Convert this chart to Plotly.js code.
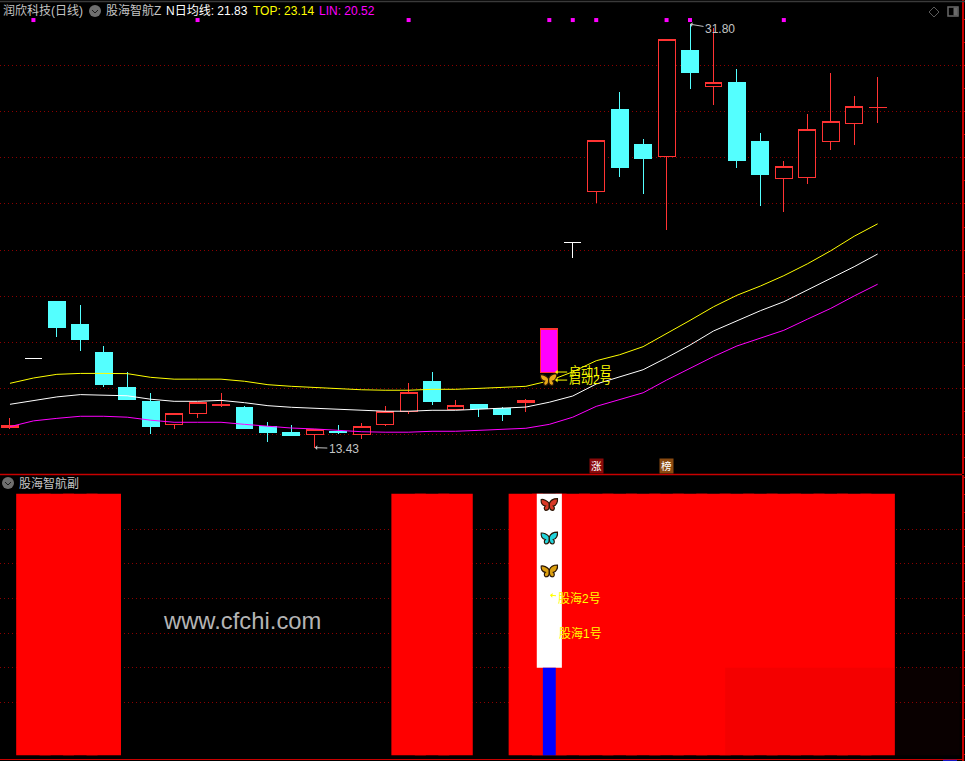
<!DOCTYPE html>
<html><head><meta charset="utf-8">
<script src="https://cdn.plot.ly/plotly-3.0.1.min.js"></script>
<style>html,body{margin:0;padding:0;background:#000}#c{width:965px;height:761px}
.boxlayer path{shape-rendering:crispEdges}</style>
</head><body><div id="c"></div>
<script>
const candleX=[0,1,2,3,4,5,6,7,8,9,10,11,12,13,14,15,16,17,18,19,20,21,22,23,24,25,26,27,28,29,30,31,32,33,34,35,36,37];
const candleOpen=[14.30,17.31,19.79,18.79,17.54,16.02,15.45,14.43,14.90,15.25,15.15,14.33,14.07,14.02,14.11,13.99,14.43,15.01,16.32,15.08,15.28,15.11,15.38,16.68,22.31,24.53,28.08,26.60,26.07,30.68,29.09,29.25,26.69,25.10,25.13,26.69,27.51,28.18];
const candleHigh=[14.72,17.31,19.79,19.62,17.84,16.71,15.80,14.92,15.40,15.80,15.24,14.54,14.41,14.20,14.41,14.50,15.24,16.24,16.71,15.50,15.28,15.19,15.54,18.58,22.31,26.76,28.86,26.82,31.14,31.80,31.63,29.86,27.08,25.87,27.90,29.68,28.69,29.51];
const candleLow=[14.25,17.31,18.23,17.62,16.06,15.51,14.02,14.24,14.72,15.19,14.24,13.67,13.94,13.43,14.02,13.81,14.37,14.90,15.29,15.08,14.77,14.59,14.99,16.68,21.66,24.06,25.18,24.45,22.89,29.00,28.31,25.57,23.93,23.67,24.87,26.34,26.56,27.51];
const candleClose=[14.39,17.31,18.63,18.10,16.15,15.51,14.33,14.92,15.40,15.28,14.28,14.07,13.94,14.20,14.08,14.36,15.01,15.83,15.42,15.27,15.11,14.85,15.48,18.58,22.31,26.76,25.57,25.96,31.14,29.70,29.28,25.88,25.27,25.64,27.25,27.60,28.21,28.20];
const whiteDojiX=[1,24];
const signalCandleX=[23];
const lineN=[15.31,15.48,15.63,15.73,15.70,15.68,15.53,15.44,15.44,15.48,15.38,15.25,15.18,15.14,15.09,15.05,15.01,15.01,15.05,15.05,15.09,15.14,15.19,15.40,15.67,16.19,16.51,16.81,17.33,17.88,18.49,18.92,19.37,19.76,20.26,20.78,21.28,21.83];
const lineTop=[16.22,16.45,16.61,16.65,16.65,16.64,16.48,16.40,16.40,16.40,16.31,16.16,16.09,16.03,16.00,15.94,15.92,15.92,15.96,15.96,16.00,16.03,16.09,16.33,16.72,17.20,17.46,17.81,18.37,18.95,19.54,20.04,20.44,20.89,21.40,21.97,22.60,23.14];
const lineLin=[14.34,14.59,14.70,14.79,14.79,14.75,14.62,14.53,14.53,14.53,14.44,14.36,14.28,14.24,14.18,14.12,14.10,14.10,14.14,14.14,14.18,14.22,14.27,14.44,14.75,15.22,15.50,15.81,16.36,16.87,17.38,17.84,18.17,18.52,19.00,19.47,20.01,20.52];
const dotX=[1,8,17,23,24,25,28,29,33];
const dotLevel=[31.98,31.98,31.98,31.98,31.98,31.98,31.98,31.98,31.98];
const subRedX=[1,2,3,4,17,18,19,22,23,24,25,26,27,28,29,30,31,32,33,34,35,36,37];
const subWhiteX=[23];
const subBlueX=[23];
const subFloor=-0.53, subCeil=7.03, subSplit=2;
const priceGrid=[14,16,18,20,22,24,26,28,30];
const subGrid=[1,2,3,4,5,6];
const headerTexts=["润欣科技(日线)","股海智航Z","N日均线: 21.83","TOP: 23.14","LIN: 20.52"];

const W=962,H=761;
const X=p=>p/W, Y=p=>1-p/H;
const RED='#ff3333', CYAN='#54ffff', GRID='#8c0000', AXIS='#c80000';
const keep=candleX.map(i=>!whiteDojiX.includes(i)&&!signalCandleX.includes(i));
const pick=(a)=>a.filter((_,i)=>keep[i]);
const pickAt=(a,xs)=>xs.map(x=>a[candleX.indexOf(x)]);
const candle=(xs,o,h,l,c,inc,dec)=>({type:'candlestick',x:xs,open:o,high:h,low:l,close:c,xaxis:'x',yaxis:'y',whiskerwidth:0,
  increasing:inc,decreasing:dec,hoverinfo:'skip',showlegend:false});
const hollow={line:{color:RED,width:1},fillcolor:'#000'};
const solid={line:{color:CYAN,width:1},fillcolor:CYAN};
const white={line:{color:'#fff',width:1},fillcolor:'#fff'};
const sig={line:{color:RED,width:1},fillcolor:'#ff00ff'};
const lineTrace=(y,color)=>({type:'scatter',mode:'lines',x:candleX,y:y,xaxis:'x',yaxis:'y',line:{color:color,width:1},hoverinfo:'skip',showlegend:false});
const bar=(xs,base,top,color,w)=>({type:'bar',x:xs,y:xs.map(()=>top-base),base:xs.map(()=>base),width:w,xaxis:'x2',yaxis:'y2',marker:{color:color,line:{width:0}},hoverinfo:'skip',showlegend:false});

const traces=[
  candle(pick(candleX),pick(candleOpen),pick(candleHigh),pick(candleLow),pick(candleClose),hollow,solid),
  candle(whiteDojiX,pickAt(candleOpen,whiteDojiX),pickAt(candleHigh,whiteDojiX),pickAt(candleLow,whiteDojiX),pickAt(candleClose,whiteDojiX),white,white),
  candle(signalCandleX,pickAt(candleOpen,signalCandleX),pickAt(candleHigh,signalCandleX),pickAt(candleLow,signalCandleX),pickAt(candleClose,signalCandleX),sig,sig),
  lineTrace(lineTop,'#ffff00'),lineTrace(lineN,'#ffffff'),lineTrace(lineLin,'#ff00ff'),
  {type:'scatter',mode:'markers',x:dotX,y:dotLevel,xaxis:'x',yaxis:'y',marker:{symbol:'square',size:4,color:'#ff00ff'},hoverinfo:'skip',showlegend:false},
  bar(subRedX,subFloor,subCeil,'#ff0000',1.47),
  bar(subWhiteX,subSplit,subCeil,'#ffffff',1.07),
  bar(subBlueX,subFloor,subSplit,'#0000ff',0.55)
];

const CJK='"Liberation Sans","Noto Sans CJK SC",sans-serif';
const txt=(text,x,y,color,size,anchor)=>({xref:'paper',yref:'paper',x:X(x),y:Y(y),text:text,showarrow:false,xanchor:anchor||'left',yanchor:'middle',font:{family:CJK,size:size||12,color:color},borderpad:0});
const note=(text,xr,yr,x,y,ax,ay,color,size)=>({xref:xr,yref:yr,x:x,y:y,text:text,showarrow:true,arrowhead:1,arrowsize:0.8,arrowwidth:1,arrowcolor:color,ax:ax,ay:ay,standoff:0,font:{family:CJK,size:size,color:color}});
const annotations=[
  txt(headerTexts[0],2,11,'#c4c4c4'),
  txt(headerTexts[1],105,11,'#c4c4c4'),
  txt(headerTexts[2],165,11,'#ffffff'),
  txt(headerTexts[3],252,11,'#ffff00'),
  txt(headerTexts[4],318,11,'#ff00ff'),
  txt('股海智航副',18,483,'#c4c4c4'),
  txt('www.cfchi.com',162,620,'#b4b4b4',23.8),
  note('31.80','x','y',29,31.80,30,5,'#c4c4c4',12),
  note('13.43','x','y',13,13.43,29,1,'#c4c4c4',12),
  note('启动1号','x','y',23.25,16.71,35,0,'#ffff00',12),
  note('启动2号','x','y',23.25,16.36,35,0,'#ffff00',12),
  note('股海2号','x2','y2',23.03,4.10,29,3,'#ffff00',12),
  {xref:'x2',yref:'y2',x:24.33,y:3,text:'股海1号',showarrow:false,font:{family:CJK,size:12,color:'#ffff00'}},
  {xref:'x',yref:'y',x:25,y:12.63,text:'涨',showarrow:false,bgcolor:'#8a0a0a',font:{family:CJK,size:10.5,color:'#fff'},borderpad:1},
  {xref:'x',yref:'y',x:28,y:12.63,text:'榜',showarrow:false,bgcolor:'#8a4a10',font:{family:CJK,size:10.5,color:'#fff'},borderpad:1}
];

const pline=(x0,y0,x1,y1,color,w)=>({type:'line',xref:'paper',yref:'paper',x0:X(x0),y0:Y(y0),x1:X(x1),y1:Y(y1),line:{color:color,width:w||1},layer:'above'});
const ppath=(d,color,fill,w)=>({type:'path',xref:'paper',yref:'paper',
  path:d.replace(/(-?\d+\.?\d*),(-?\d+\.?\d*)/g,(m,a,b)=>X(+a)+','+Y(+b)),line:{color:color,width:w||1},fillcolor:fill||'rgba(0,0,0,0)',layer:'above'});
const circle=(cx,cy,r)=>({type:'circle',xref:'paper',yref:'paper',x0:X(cx-r),x1:X(cx+r),y0:Y(cy-r),y1:Y(cy+r),fillcolor:'#6e6e6e',line:{width:0},layer:'above'});
const shapes=[
  pline(0,1.5,965,1.5,'#3a3a3a',1.5),
  pline(0,474.5,962,474.5,AXIS,1.5),
  pline(0,759.5,962,759.5,AXIS),
  pline(943,760.5,957,760.5,'#1818c8',1.5),
  circle(95,11,6), ppath('M92,10 L95,13 L98,10','#1c1c1c'),
  circle(8,483,6), ppath('M5,482 L8,485 L11,482','#1c1c1c'),
  ppath('M934,7 L939,12 L934,17 L929,12 Z','#5a5a5a'),
  ppath('M948,7 L958,7 L958,16 L948,16 Z','#6a6a6a',null,1.5),
  ppath('M954,8 L957,8 L957,15 L954,15 Z','#6a6a6a','#6a6a6a'),
  {type:'rect',xref:'x2',yref:'y2',x0:30.5,x1:40.5,y0:subFloor,y1:subSplit,fillcolor:'rgb(120,0,0)',opacity:0.08,line:{width:0},layer:'above'}
];

function fly(c){
  const svg="<svg xmlns='http://www.w3.org/2000/svg' viewBox='0 0 18 14'>"+
  "<g stroke='#2a1606' stroke-width='1.2' fill='"+c+"'>"+
  "<path d='M9 6 C7 3 3 1.5 1 2 C0.5 5 2 8 5 8.5 C3.5 10 4 12.5 5.5 13 C8 13 9 11 9 8 Z'/>"+
  "<path d='M9 6 C10 3 12 1 17 1 C17.5 4 16 8 13 8.5 C14.5 10 14 12.5 12.5 13 C10 13 9 11 9 8 Z'/></g></svg>";
  return 'data:image/svg+xml;utf8,'+encodeURIComponent(svg);
}
const img=(c,xr,yr,x,y,sy)=>({source:fly(c),xref:xr,yref:yr,x:x,y:y,sizex:0.78,sizey:sy,xanchor:'center',yanchor:'middle',sizing:'stretch',layer:'above'});
const images=[
  img('#e8a818','x','y',22.97,16.38,0.6),
  img('#d83a28','x2','y2',23,6.72,0.4),
  img('#22d4dc','x2','y2',23,5.75,0.4),
  img('#dca010','x2','y2',23,4.8,0.4)
];

const layout={
  width:965,height:761,autosize:false,
  margin:{l:0,r:3,t:0,b:0,pad:0},
  paper_bgcolor:'#000',plot_bgcolor:'#000',
  showlegend:false,barmode:'overlay',hovermode:false,boxgap:0.28,boxgroupgap:0,
  xaxis:{domain:[0,1],range:[-0.425,40.598],anchor:'y',showgrid:false,zeroline:false,showticklabels:false,ticks:'',rangeslider:{visible:false},fixedrange:true},
  xaxis2:{domain:[0,1],range:[-0.425,40.598],anchor:'y2',showgrid:false,zeroline:false,showticklabels:false,ticks:'',rangeslider:{visible:false},fixedrange:true},
  yaxis:{domain:[Y(474),1],range:[12.286,32.85],side:'right',anchor:'x',tickmode:'array',tickvals:priceGrid,showgrid:true,gridcolor:GRID,griddash:'1px,3px',gridwidth:1,
    zeroline:false,showticklabels:false,ticks:'outside',ticklen:3,tickcolor:AXIS,showline:true,linecolor:AXIS,linewidth:2,
    minor:{tick0:0,dtick:1,ticks:'outside',ticklen:3,tickcolor:AXIS,showgrid:false},fixedrange:true},
  yaxis2:{domain:[0,Y(475)],range:[-0.694,7.572],side:'right',anchor:'x2',tickmode:'array',tickvals:subGrid,showgrid:true,gridcolor:GRID,griddash:'1px,3px',gridwidth:1,
    zeroline:false,showticklabels:false,ticks:'outside',ticklen:3,tickcolor:AXIS,showline:true,linecolor:AXIS,linewidth:2,
    minor:{tick0:0,dtick:0.5,ticks:'outside',ticklen:3,tickcolor:AXIS,showgrid:false},fixedrange:true},
  annotations:annotations,shapes:shapes,images:images
};
Plotly.newPlot('c',traces,layout,{displayModeBar:false,staticPlot:true}).then(()=>{
  document.querySelectorAll('.gridlayer path').forEach(p=>{
    const t=p.getAttribute('transform')||'';
    const m=/translate\(\s*([-\d.]+)[ ,]+([-\d.]+)\s*\)/.exec(t);
    if(m){p.setAttribute('transform','translate('+m[1]+','+(Math.floor(+m[2])+0.5)+')');}
    p.style.shapeRendering='geometricPrecision';
    p.style.strokeDasharray='1 3';
    p.style.strokeLinecap='butt';
  });
});
</script></body></html>
